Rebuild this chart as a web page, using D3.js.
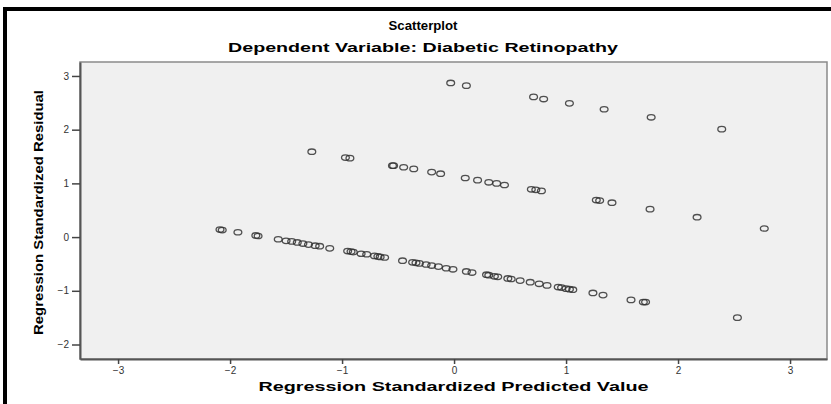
<!DOCTYPE html>
<html>
<head>
<meta charset="utf-8">
<script src="https://cdn.jsdelivr.net/npm/d3@7/dist/d3.min.js"></script>
<style>
  body { margin: 0; background: #fff; }
  text { font-family: "Liberation Sans", Arial, sans-serif; }
</style>
</head>
<body>
<div id="chart"></div>
<script>
// values (three bands of the residual plot)
var predicted = [
  -0.03, 0.11, 0.71, 0.80, 1.03, 1.34, 1.76, 2.39,
  -1.27, -0.97, -0.93, -0.55, -0.54, -0.45, -0.36, -0.20, -0.12, 0.10, 0.21, 0.31, 0.38, 0.45,
  0.69, 0.73, 0.78, 1.27, 1.30, 1.41, 1.75, 2.17, 2.77,
  -2.09, -2.07, -1.93, -1.77, -1.75, -1.57, -1.50, -1.45, -1.40, -1.35, -1.30, -1.24, -1.20, -1.11,
  -0.95, -0.92, -0.90, -0.83, -0.78, -0.71, -0.68, -0.66, -0.62, -0.46, -0.37, -0.34, -0.31, -0.25, -0.20,
  -0.14, -0.07, -0.01, 0.11, 0.16, 0.29, 0.31, 0.36, 0.39, 0.48, 0.51, 0.59, 0.68, 0.76, 0.83,
  0.93, 0.96, 1.00, 1.03, 1.06, 1.24, 1.33, 1.58, 1.69, 1.71, 2.53
];
var residual = [
  2.87, 2.82, 2.61, 2.57, 2.49, 2.38, 2.23, 2.01,
  1.59, 1.48, 1.47, 1.33, 1.33, 1.30, 1.27, 1.21, 1.18, 1.10, 1.06, 1.02, 1.00, 0.97,
  0.89, 0.88, 0.86, 0.69, 0.68, 0.64, 0.52, 0.37, 0.16,
  0.14, 0.13, 0.09, 0.03, 0.02, -0.04, -0.07, -0.08, -0.10, -0.12, -0.14, -0.16, -0.17, -0.21,
  -0.26, -0.27, -0.28, -0.31, -0.32, -0.35, -0.36, -0.37, -0.38, -0.44, -0.47, -0.48, -0.49, -0.51, -0.53,
  -0.55, -0.58, -0.60, -0.64, -0.66, -0.70, -0.71, -0.73, -0.74, -0.77, -0.78, -0.81, -0.84, -0.87, -0.90,
  -0.93, -0.94, -0.96, -0.97, -0.98, -1.04, -1.08, -1.17, -1.21, -1.21, -1.50
];
var xTicks = [-3, -2, -1, 0, 1, 2, 3];
var yTicks = [-2, -1, 0, 1, 2, 3];

var width = 831, height = 404;
var plot = {left: 80, top: 62, right: 827, bottom: 359};

var svg = d3.select("#chart").append("svg")
    .attr("width", width)
    .attr("height", height);

// outer black frame (left and top only, as in the picture)
svg.append("line")
    .attr("x1", 3).attr("y1", 9).attr("x2", width).attr("y2", 9)
    .attr("stroke", "#000").attr("stroke-width", 4);
svg.append("line")
    .attr("x1", 5).attr("y1", 7).attr("x2", 5).attr("y2", height)
    .attr("stroke", "#000").attr("stroke-width", 4);

var x = d3.scaleLinear()
    .domain([-3.34, 3.33])
    .range([plot.left, plot.right]);
var y = d3.scaleLinear()
    .domain([-2.27, 3.26])
    .range([plot.bottom, plot.top]);

svg.append("rect")
    .attr("x", plot.left)
    .attr("y", plot.top)
    .attr("width", plot.right - plot.left)
    .attr("height", plot.bottom - plot.top)
    .attr("fill", "#f0f0f0")
    .attr("stroke", "#8a8a8a")
    .attr("stroke-width", 1.5);

var xAxis = svg.append("g")
    .attr("transform", "translate(0," + plot.bottom + ")")
    .call(d3.axisBottom(x).tickValues(xTicks).tickSize(5).tickSizeOuter(0).tickPadding(3)
      .tickFormat(d3.format("d")));
var yAxis = svg.append("g")
    .attr("transform", "translate(" + plot.left + ",0)")
    .call(d3.axisLeft(y).tickValues(yTicks).tickSize(8).tickSizeOuter(0).tickPadding(3)
      .tickFormat(d3.format("d")));

[xAxis, yAxis].forEach(function(a) {
    a.select(".domain").attr("stroke", "#555").attr("stroke-width", 2);
    a.selectAll(".tick line").attr("stroke", "#444").attr("stroke-width", 1.5);
    a.selectAll(".tick text")
        .attr("fill", "#333")
        .style("font-size", "10px")
        .style("font-family", "'Liberation Sans', Arial, sans-serif");
});

var points = predicted.map(function(p, i) { return {p: p, r: residual[i]}; });

svg.append("g").selectAll("ellipse")
    .data(points)
    .enter().append("ellipse")
    .attr("cx", function(d) { return x(d.p); })
    .attr("cy", function(d) { return y(d.r); })
    .attr("rx", 3.9)
    .attr("ry", 2.7)
    .attr("fill", "none")
    .attr("stroke", "#333")
    .attr("stroke-opacity", 0.85)
    .attr("stroke-width", 1.3);

// titles
svg.append("text")
    .attr("x", 423).attr("y", 30)
    .attr("text-anchor", "middle")
    .style("font-size", "13px").style("font-weight", "bold")
    .attr("textLength", 69).attr("lengthAdjust", "spacingAndGlyphs")
    .text("Scatterplot");
svg.append("text")
    .attr("x", 423).attr("y", 52)
    .attr("text-anchor", "middle")
    .style("font-size", "13px").style("font-weight", "bold")
    .attr("textLength", 390).attr("lengthAdjust", "spacingAndGlyphs")
    .text("Dependent Variable: Diabetic Retinopathy");
svg.append("text")
    .attr("x", (plot.left + plot.right) / 2).attr("y", 391)
    .attr("text-anchor", "middle")
    .style("font-size", "13px").style("font-weight", "bold")
    .attr("textLength", 390).attr("lengthAdjust", "spacingAndGlyphs")
    .text("Regression Standardized Predicted Value");
svg.append("text")
    .attr("transform", "translate(43," + ((plot.top + plot.bottom) / 2 + 2) + ") rotate(-90)")
    .attr("text-anchor", "middle")
    .style("font-size", "13px").style("font-weight", "bold")
    .attr("textLength", 245).attr("lengthAdjust", "spacingAndGlyphs")
    .text("Regression Standardized Residual");
</script>
</body>
</html>
